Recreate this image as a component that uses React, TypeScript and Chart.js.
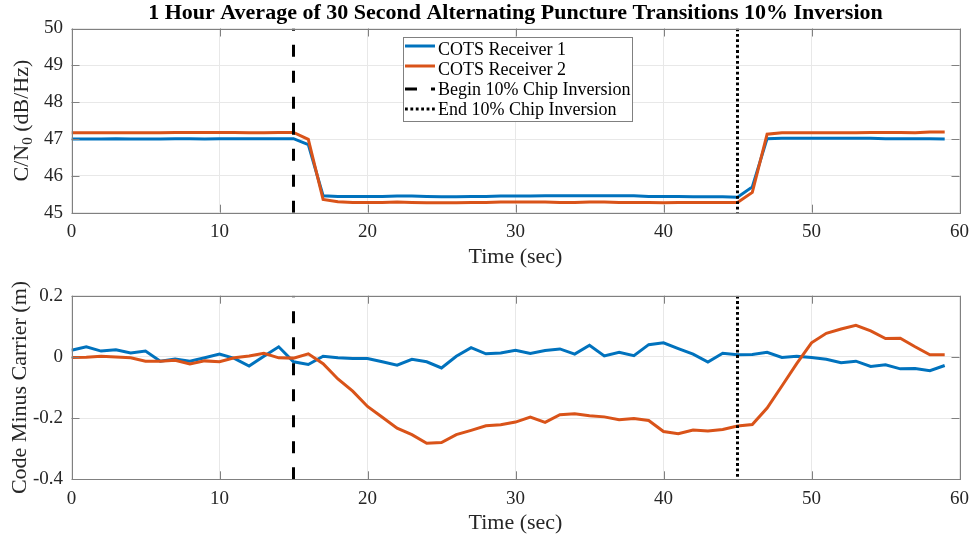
import React, { useEffect, useRef } from 'react';
import { Chart, registerables } from 'chart.js';

Chart.register(...registerables);

// ---------------- data ----------------
const timeSec = [
  0, 1, 2, 3, 4, 5, 6, 7, 8, 9, 10, 11, 12, 13, 14, 15, 16, 17, 18, 19,
  20, 21, 22, 23, 24, 25, 26, 27, 28, 29, 30, 31, 32, 33, 34, 35, 36, 37, 38, 39,
  40, 41, 42, 43, 44, 45, 46, 47, 48, 49, 50, 51, 52, 53, 54, 55, 56, 57, 58, 59,
];

const cn0Rx1 = [
  47.0, 47.0, 47.0, 47.01, 47.0, 47.0, 47.0, 47.01, 47.01, 47.0,
  47.01, 47.01, 47.01, 47.01, 47.01, 47.01, 46.85, 45.46, 45.44, 45.44,
  45.44, 45.44, 45.45, 45.45, 45.44, 45.43, 45.43, 45.44, 45.44, 45.45,
  45.45, 45.45, 45.46, 45.46, 45.46, 45.46, 45.46, 45.46, 45.46, 45.44,
  45.44, 45.44, 45.43, 45.43, 45.43, 45.42, 45.7, 47.01, 47.02, 47.02,
  47.02, 47.02, 47.02, 47.02, 47.02, 47.01, 47.01, 47.01, 47.01, 47.0,
];

const cn0Rx2 = [
  47.17, 47.17, 47.17, 47.17, 47.17, 47.17, 47.17, 47.18, 47.18, 47.18,
  47.18, 47.18, 47.17, 47.17, 47.18, 47.18, 46.99, 45.36, 45.3, 45.28,
  45.28, 45.28, 45.29, 45.28, 45.27, 45.27, 45.27, 45.28, 45.28, 45.29,
  45.29, 45.29, 45.29, 45.28, 45.28, 45.29, 45.29, 45.28, 45.28, 45.28,
  45.27, 45.28, 45.28, 45.28, 45.28, 45.28, 45.55, 47.13, 47.17, 47.17,
  47.17, 47.17, 47.17, 47.17, 47.18, 47.18, 47.18, 47.17, 47.19, 47.19,
];

const cmcRx1 = [
  0.022, 0.033, 0.019, 0.023, 0.013, 0.019, -0.014, -0.007, -0.014, -0.003,
  0.009, -0.005, -0.03, 0.002, 0.033, -0.016, -0.025, 0.002, -0.003, -0.005,
  -0.005, -0.016, -0.027, -0.008, -0.016, -0.036, 0.002, 0.03, 0.01, 0.013,
  0.022, 0.011, 0.021, 0.026, 0.009, 0.038, 0.003, 0.015, 0.004, 0.04,
  0.046, 0.027, 0.009, -0.017, 0.012, 0.007, 0.008, 0.015, -0.002, 0.002,
  -0.002, -0.008, -0.019, -0.014, -0.031, -0.026, -0.039, -0.038, -0.045, -0.028,
];

const cmcRx2 = [
  -0.002, -0.001, 0.002, 0.0, -0.003, -0.014, -0.014, -0.011, -0.023, -0.013,
  -0.016, -0.003, 0.003, 0.012, -0.003, -0.004, 0.01, -0.022, -0.072, -0.112,
  -0.162, -0.197, -0.233, -0.254, -0.282, -0.28, -0.254, -0.24, -0.225, -0.222,
  -0.213, -0.197, -0.214, -0.189, -0.186, -0.192, -0.196, -0.205, -0.201, -0.208,
  -0.244, -0.251, -0.239, -0.242, -0.237, -0.226, -0.221, -0.167, -0.095, -0.022,
  0.046, 0.077, 0.091, 0.103, 0.085, 0.06, 0.061, 0.033, 0.007, 0.007,
];

const beginInversion = 15;
const endInversion = 45;

const xTicks = [0, 10, 20, 30, 40, 50, 60];
const cn0Ticks = [45, 46, 47, 48, 49, 50];
const cmcTicks = [-0.4, -0.2, 0, 0.2];

const seriesLabels = [
  'COTS Receiver 1',
  'COTS Receiver 2',
  'Begin 10% Chip Inversion',
  'End 10% Chip Inversion',
];
const chartTitle = '1 Hour Average of 30 Second Alternating Puncture Transitions 10% Inversion';
const xLabel = 'Time (sec)';
const cmcLabel = 'Code Minus Carrier (m)';

// ---------------- styles ----------------
const FONT = '"Liberation Serif", "Times New Roman", serif';
const BLUE = '#0072BD';
const ORANGE = '#D95319';
const BOX = '#808080';
const GRID = '#e8e8e8';
const TEXT = '#262626';
const LW = 3;
const DASH = [12, 14];
const DOT = [2.8, 2.6];
const TL = 8;

type Decor = {
  title?: boolean;
  legend?: boolean;
  yTicks: number[];
  yLabelX: number;
  yLabel: 'cn0' | 'cmc';
  xLabelY: number;
};

function makeDecor(cfg: Decor) {
  return {
    id: 'decor',
    afterDraw(chart: any) {
      const { ctx, chartArea: a, scales } = chart;
      const xs = scales.x;
      const ys = scales.y;
      ctx.save();
      // tick marks (inside, all four sides)
      ctx.strokeStyle = BOX;
      ctx.lineWidth = 1;
      ctx.beginPath();
      for (const v of xTicks) {
        const px = Math.round(xs.getPixelForValue(v)) + 0.5;
        ctx.moveTo(px, a.bottom);
        ctx.lineTo(px, a.bottom - TL);
        ctx.moveTo(px, a.top);
        ctx.lineTo(px, a.top + TL);
      }
      for (const v of cfg.yTicks) {
        const py = Math.round(ys.getPixelForValue(v)) + 0.5;
        ctx.moveTo(a.left, py);
        ctx.lineTo(a.left + TL, py);
        ctx.moveTo(a.right, py);
        ctx.lineTo(a.right - TL, py);
      }
      ctx.stroke();
      // box
      ctx.strokeRect(
        Math.round(a.left) + 0.5,
        Math.round(a.top) + 0.5,
        Math.round(a.right) - Math.round(a.left),
        Math.round(a.bottom) - Math.round(a.top)
      );

      const cx = (a.left + a.right) / 2;
      const cy = (a.top + a.bottom) / 2;
      ctx.textAlign = 'center';
      ctx.textBaseline = 'middle';

      // x label
      ctx.font = `22px ${FONT}`;
      ctx.fillStyle = TEXT;
      ctx.fillText(xLabel, cx, cfg.xLabelY);

      // y label
      ctx.save();
      ctx.translate(cfg.yLabelX, cy);
      ctx.rotate(-Math.PI / 2);
      if (cfg.yLabel === 'cmc') {
        ctx.font = `22px ${FONT}`;
        ctx.fillText(cmcLabel, 0, 0);
      } else {
        const big = `22px ${FONT}`;
        const small = `15px ${FONT}`;
        const p1 = 'C/N';
        const p2 = '0';
        const p3 = ' (dB/Hz)';
        ctx.font = big;
        const w1 = ctx.measureText(p1).width;
        const w3 = ctx.measureText(p3).width;
        ctx.font = small;
        const w2 = ctx.measureText(p2).width;
        const total = w1 + w2 + w3;
        let x0 = -total / 2;
        ctx.textAlign = 'left';
        ctx.font = big;
        ctx.fillText(p1, x0, 0);
        x0 += w1;
        ctx.font = small;
        ctx.fillText(p2, x0, 6);
        x0 += w2;
        ctx.font = big;
        ctx.fillText(p3, x0, 0);
      }
      ctx.restore();

      // title
      if (cfg.title) {
        ctx.font = `bold 22px ${FONT}`;
        ctx.fillStyle = '#000';
        ctx.textAlign = 'center';
        ctx.fillText(chartTitle, cx, 13);
      }

      // legend
      if (cfg.legend) {
        const L = 403, T = 37, R = 632, B = 121;
        ctx.fillStyle = '#fff';
        ctx.fillRect(L, T, R - L, B - T);
        ctx.strokeStyle = BOX;
        ctx.lineWidth = 1;
        ctx.strokeRect(L + 0.5, T + 0.5, R - L, B - T);
        const ds = chart.data.datasets;
        const lineY = [46, 66, 89, 109];
        const textY = [50, 70, 90.5, 110.5];
        for (let i = 0; i < 4; i++) {
          ctx.save();
          ctx.strokeStyle = ds[i].borderColor;
          ctx.lineWidth = ds[i].borderWidth;
          ctx.setLineDash(ds[i].borderDash || []);
          ctx.beginPath();
          ctx.moveTo(405, lineY[i]);
          ctx.lineTo(435, lineY[i]);
          ctx.stroke();
          ctx.restore();
          ctx.font = `18px ${FONT}`;
          ctx.fillStyle = '#000';
          ctx.textAlign = 'left';
          ctx.textBaseline = 'middle';
          ctx.fillText(ds[i].label, 438, textY[i]);
        }
      }
      ctx.restore();
    },
  };
}

function buildConfig(
  y1: number[],
  y2: number[],
  yTicks: number[],
  topPad: number,
  xHeight: number,
  decor: Decor
) {
  const yMin = yTicks[0];
  const yMax = yTicks[yTicks.length - 1];
  const tickFont = { family: FONT, size: 19 };
  return {
    type: 'line' as const,
    data: {
      datasets: [
        {
          label: seriesLabels[0],
          data: timeSec.map((t, i) => ({ x: t, y: y1[i] })),
          borderColor: BLUE,
          borderWidth: LW,
          pointRadius: 0,
          tension: 0,
          order: 4,
        },
        {
          label: seriesLabels[1],
          data: timeSec.map((t, i) => ({ x: t, y: y2[i] })),
          borderColor: ORANGE,
          borderWidth: LW,
          pointRadius: 0,
          tension: 0,
          order: 3,
        },
        {
          label: seriesLabels[2],
          data: [
            { x: beginInversion, y: yMin },
            { x: beginInversion, y: yMax },
          ],
          borderColor: '#000',
          borderWidth: 3,
          borderDash: DASH,
          borderCapStyle: 'butt',
          pointRadius: 0,
          order: 2,
        },
        {
          label: seriesLabels[3],
          data: [
            { x: endInversion, y: yMax },
            { x: endInversion, y: yMin },
          ],
          borderColor: '#000',
          borderWidth: 3,
          borderDash: DOT,
          borderCapStyle: 'butt',
          pointRadius: 0,
          order: 1,
        },
      ],
    },
    options: {
      animation: false as const,
      responsive: false,
      maintainAspectRatio: false,
      events: [],
      layout: { padding: { left: 0, right: 13, top: topPad, bottom: 0 } },
      plugins: {
        legend: { display: false },
        tooltip: { enabled: false },
        title: { display: false },
      },
      scales: {
        x: {
          type: 'linear' as const,
          min: 0,
          max: 60,
          afterBuildTicks: (s: any) => {
            s.ticks = xTicks.map((v) => ({ value: v }));
          },
          afterFit: (s: any) => {
            s.height = xHeight;
          },
          ticks: {
            font: tickFont,
            color: TEXT,
            padding: 8,
            maxRotation: 0,
            autoSkip: false,
            callback: (v: any) => String(v),
          },
          grid: { color: GRID, lineWidth: 1, drawTicks: false },
          border: { display: false },
        },
        y: {
          type: 'linear' as const,
          min: yMin,
          max: yMax,
          afterBuildTicks: (s: any) => {
            s.ticks = yTicks.map((v) => ({ value: v }));
          },
          afterFit: (s: any) => {
            s.width = 71.5;
          },
          ticks: {
            font: tickFont,
            color: TEXT,
            padding: 8.5,
            autoSkip: false,
            callback: (v: any) => String(Math.round(v * 1000) / 1000),
          },
          grid: { color: GRID, lineWidth: 1, drawTicks: false },
          border: { display: false },
        },
      },
    },
    plugins: [makeDecor(decor)],
  };
}

export default function App() {
  const topRef = useRef<HTMLCanvasElement>(null);
  const botRef = useRef<HTMLCanvasElement>(null);

  useEffect(() => {
    const top = new Chart(
      topRef.current!,
      buildConfig(cn0Rx1, cn0Rx2, cn0Ticks, 28.5, 55.3, {
        title: true,
        legend: true,
        yTicks: cn0Ticks,
        yLabelX: 22,
        yLabel: 'cn0',
        xLabelY: 257,
      }) as any
    );
    const bot = new Chart(
      botRef.current!,
      buildConfig(cmcRx1, cmcRx2, cmcTicks, 27.7, 57.7, {
        yTicks: cmcTicks,
        yLabelX: 20,
        yLabel: 'cmc',
        xLabelY: 255,
      }) as any
    );
    return () => {
      top.destroy();
      bot.destroy();
    };
  }, []);

  return (
    <div
      style={{
        position: 'fixed',
        left: 0,
        top: 0,
        width: 977,
        height: 537,
        background: '#fff',
      }}
    >
      <canvas
        ref={topRef}
        width={977}
        height={268}
        style={{ position: 'absolute', left: 0, top: 0, width: 977, height: 268 }}
      />
      <canvas
        ref={botRef}
        width={977}
        height={269}
        style={{ position: 'absolute', left: 0, top: 268, width: 977, height: 269 }}
      />
    </div>
  );
}
